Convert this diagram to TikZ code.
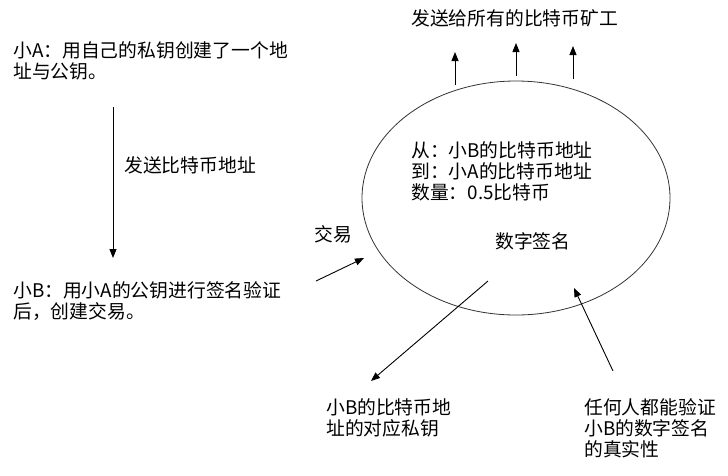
\documentclass[tikz,border=0pt]{standalone}
\usepackage{fontspec}
\setmainfont{Noto Sans CJK SC}
\usetikzlibrary{arrows.meta,shapes.geometric}
\tikzset{
  txt/.style={inner sep=0pt, anchor=west, align=left,
    font=\fontsize{18.8}{21}\selectfont},
  arr/.style={-{Triangle[length=9pt,width=7pt]}, line width=0.9pt},
}
\begin{document}
\begin{tikzpicture}[x=1pt,y=-1pt]
\useasboundingbox[fill=white] (0,0) rectangle (728,475);
% ellipse
\node[draw=black!80, line width=0.8pt, ellipse, minimum width=308pt, minimum height=234pt, inner sep=0pt] (tx) at (516,198) {};
% texts
\node[txt] (miners) at (411,18) {发送给所有的比特币矿工};
\node[txt, anchor=north west] (a) at (13,41) {小A：用自己的私钥创建了一个地\\址与公钥。};
\node[txt] (send) at (124,165) {发送比特币地址};
\node[txt, anchor=north west] (b) at (13,281) {小B：用小A的公钥进行签名验证\\后，创建交易。};
\node[txt] (jy) at (314,234) {交易};
\node[txt, anchor=north west] (body) at (411,141) {从：小B的比特币地址\\到：小A的比特币地址\\数量：0.5比特币};
\node[txt] (sig) at (495,241) {数字签名};
\node[txt, anchor=north west] (key) at (326,398) {小B的比特币地\\址的对应私钥};
\node[txt, anchor=north west] (any) at (584,398) {任何人都能验证\\小B的数字签名\\的真实性};
% coordinates
\coordinate (u1s) at (455,85); \coordinate (u1e) at (455,52);
\coordinate (u2s) at (516,76); \coordinate (u2e) at (516,43);
\coordinate (u3s) at (573,79); \coordinate (u3e) at (573,46);
\coordinate (ds) at (113,107); \coordinate (de) at (113,258);
\coordinate (js) at (316,281); \coordinate (je) at (364,258);
\coordinate (ks) at (488,281); \coordinate (ke) at (371,381);
\coordinate (vs) at (613,371); \coordinate (ve) at (574,288);
% arrows
\draw[arr] (u1s) -- (u1e);
\draw[arr] (u2s) -- (u2e);
\draw[arr] (u3s) -- (u3e);
\draw[arr] (ds) -- (de);
\draw[arr] (js) -- (je);
\draw[arr] (ks) -- (ke);
\draw[arr] (vs) -- (ve);
\end{tikzpicture}
\end{document}
